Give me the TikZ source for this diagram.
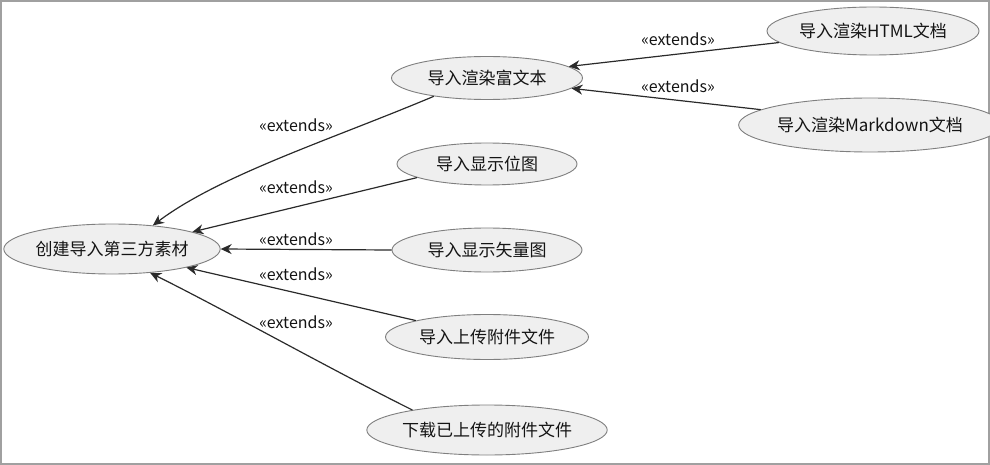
\documentclass[tikz,border=0pt]{standalone}
\usepackage{fontspec}
\setmainfont{Noto Sans CJK SC}
\usetikzlibrary{shapes.geometric,arrows.meta}
\definecolor{ufill}{HTML}{EFEFEF}
\definecolor{uline}{HTML}{7F7F7F}
\definecolor{eline}{HTML}{2A2A2A}
\definecolor{framec}{HTML}{A0A0A0}
\definecolor{txt}{HTML}{141414}
\begin{document}
\begin{tikzpicture}[x=1pt,y=-1pt,
  uc/.style={ellipse,draw=uline,fill=ufill,line width=0.9pt,inner sep=0pt,text=txt,font=\fontsize{17}{20}\selectfont},
  ext/.style={text=txt,font=\fontsize{16}{19}\selectfont,inner sep=0pt},
  extarrow/.style={draw=eline,line width=1.2pt,-{Stealth[length=11pt,width=10pt,inset=3.5pt]}}]
\useasboundingbox (0,0) rectangle (990,465);
\draw[framec,line width=1.6pt] (1,1) rectangle (989,464);

\node[uc,minimum width=216pt,minimum height=50pt] (L) at (112,249) {创建导入第三方素材};
\node[uc,minimum width=191pt,minimum height=43pt] (R1) at (487,78) {导入渲染富文本};
\node[uc,minimum width=180pt,minimum height=42pt] (R2) at (487,164) {导入显示位图};
\node[uc,minimum width=190pt,minimum height=44pt] (R3) at (487,250) {导入显示矢量图};
\node[uc,minimum width=203pt,minimum height=45pt] (R4) at (487,337) {导入上传附件文件};
\node[uc,minimum width=230pt,minimum height=50pt] (R5) at (487,430) {下载已上传的附件文件};
\node[uc,minimum width=212pt,minimum height=48pt] (H) at (873,31) {导入渲染HTML文档};
\node[uc,minimum width=233pt,minimum height=54pt] (M) at (870,125) {导入渲染Markdown文档};

\draw[extarrow] (R1.199) .. controls (330,140) and (220,175) .. (L.30);
\draw[extarrow] (R2.191) -- (L.12);
\draw[extarrow] (R3.west) -- (L.east);
\draw[extarrow] (R4.167) -- (L.-14);
\draw[extarrow] (R5.165) .. controls (330,369) and (225,310) .. (L.-32);
\draw[extarrow] (H.187) -- (R1.8);
\draw[extarrow] (M.172) -- (R1.-7);

\node[ext] (l1) at (296,125) {«extends»};
\node[ext] (l2) at (296,187) {«extends»};
\node[ext] (l3) at (296,239) {«extends»};
\node[ext] (l4) at (296,274) {«extends»};
\node[ext] (l5) at (296,322) {«extends»};
\node[ext] (l6) at (678,39) {«extends»};
\node[ext] (l7) at (678,86) {«extends»};
\end{tikzpicture}
\end{document}
